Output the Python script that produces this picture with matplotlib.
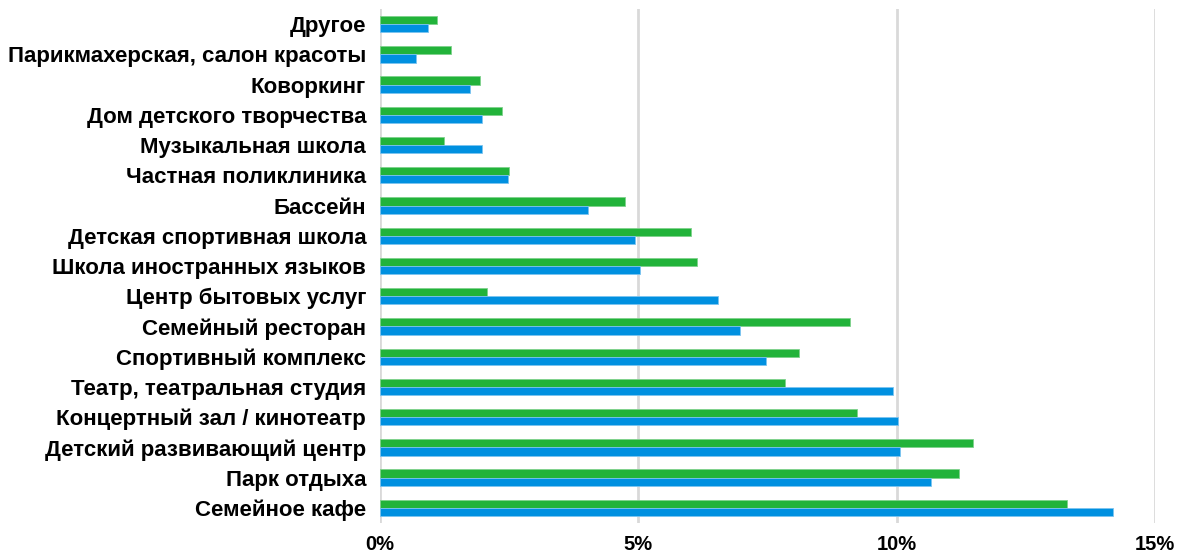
import matplotlib
matplotlib.use("Agg")
import matplotlib.pyplot as plt
import numpy as np
from matplotlib.ticker import PercentFormatter

plt.rcParams['font.family'] = ['Liberation Sans', 'DejaVu Sans']

# categories, top to bottom as in the chart
categories = [
    "Другое",
    "Парикмахерская, салон красоты",
    "Коворкинг",
    "Дом детского творчества",
    "Музыкальная школа",
    "Частная поликлиника",
    "Бассейн",
    "Детская спортивная школа",
    "Школа иностранных языков",
    "Центр бытовых услуг",
    "Семейный ресторан",
    "Спортивный комплекс",
    "Театр, театральная студия",
    "Концертный зал / кинотеатр",
    "Детский развивающий центр",
    "Парк отдыха",
    "Семейное кафе",
]

# values in %
green_vals = [1.10, 1.38, 1.94, 2.36, 1.24, 2.50, 4.75, 6.01, 6.14, 2.07,
              9.09, 8.10, 7.83, 9.23, 11.48, 11.20, 13.30]
blue_vals = [0.93, 0.70, 1.74, 1.98, 1.98, 2.48, 4.03, 4.94, 5.04, 6.55,
             6.96, 7.46, 9.93, 10.03, 10.07, 10.67, 14.18]

green = '#22b33a'
blue = '#0090e0'

fig = plt.figure(figsize=(11.78, 5.55), dpi=100)
ax = fig.add_axes([0.3226, 0.0577, 0.658, 0.926])

y = np.arange(len(categories))
h = 0.27
ax.barh(y - h / 2, green_vals, height=h, color=green, edgecolor='#7fd18c', linewidth=0.6)
ax.barh(y + h / 2, blue_vals, height=h, color=blue, edgecolor='#7cc4f0', linewidth=0.6)

ax.set_ylim(len(categories) - 0.5, -0.5)
ax.set_xlim(0, 15)
ax.set_xticks([0, 5, 10, 15])
ax.xaxis.set_major_formatter(PercentFormatter(decimals=0))
ax.set_yticks(y)
ax.set_yticklabels(categories, fontsize=16, fontweight='bold')
for lbl in ax.get_xticklabels():
    lbl.set_fontsize(14.5)
    lbl.set_fontweight('bold')

ax.grid(axis='x', color='#d9d9d9', linewidth=2)
ax.set_axisbelow(True)
for s in ax.spines.values():
    s.set_visible(False)
ax.tick_params(axis='both', length=0)
ax.tick_params(axis='y', pad=10)
ax.tick_params(axis='x', pad=9)

fig.savefig('out.png', dpi=100)
